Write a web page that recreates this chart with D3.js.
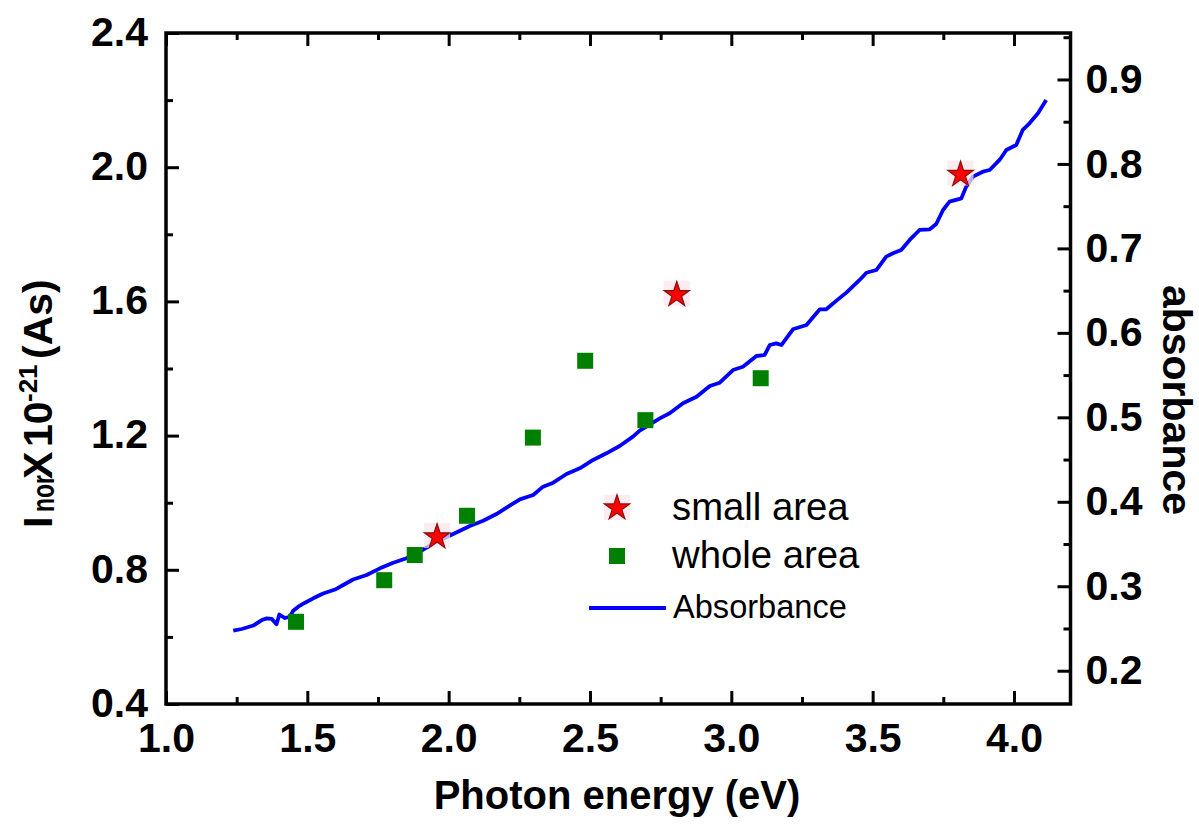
<!DOCTYPE html>
<html>
<head>
<meta charset="utf-8">
<script src="https://cdn.jsdelivr.net/npm/d3@7"></script>
<style>
  html, body { margin: 0; padding: 0; background: #fff; }
  svg { display: block; }
  text { font-family: "Liberation Sans", Arial, sans-serif; }
</style>
</head>
<body>
<svg id="chart" width="1199" height="835"></svg>
<script>
// Photon energy (eV) and normalised current for the two illumination areas
const smallAreaEnergy = [1.959, 2.807, 3.811];
const smallAreaCurrent = [0.901, 1.623, 1.981];

const wholeAreaEnergy = [1.460, 1.772, 1.880, 2.065, 2.298, 2.483, 2.696, 3.104];
const wholeAreaCurrent = [0.645, 0.769, 0.844, 0.961, 1.194, 1.423, 1.246, 1.371];

// Absorbance spectrum (right axis)
const absEnergy = [1.238, 1.268, 1.309, 1.339, 1.357, 1.374, 1.391, 1.401, 1.421, 1.438,
  1.450, 1.468, 1.492, 1.521, 1.556, 1.598, 1.627, 1.662, 1.710, 1.757,
  1.804, 1.851, 1.898, 1.957, 2.016, 2.075, 2.122, 2.169, 2.216, 2.252,
  2.299, 2.334, 2.370, 2.417, 2.464, 2.511, 2.558, 2.605, 2.652, 2.676,
  2.747, 2.782, 2.829, 2.877, 2.924, 2.959, 3.006, 3.041, 3.089, 3.118,
  3.136, 3.159, 3.177, 3.218, 3.266, 3.313, 3.336, 3.372, 3.407, 3.454,
  3.478, 3.513, 3.548, 3.572, 3.601, 3.631, 3.666, 3.702, 3.725, 3.749,
  3.772, 3.814, 3.831, 3.855, 3.890, 3.914, 3.949, 3.973, 4.008, 4.031,
  4.055, 4.085, 4.114];
const absValue = [0.2474, 0.2494, 0.2535, 0.2600, 0.2620, 0.2614, 0.2551, 0.2665, 0.2624, 0.2639,
  0.2710, 0.2758, 0.2805, 0.2857, 0.2914, 0.2961, 0.3015, 0.3080, 0.3133, 0.3212,
  0.3279, 0.3331, 0.3409, 0.3527, 0.3619, 0.3713, 0.3776, 0.3855, 0.3954, 0.4029,
  0.4080, 0.4179, 0.4226, 0.4329, 0.4396, 0.4495, 0.4574, 0.4660, 0.4771, 0.4842,
  0.4988, 0.5048, 0.5166, 0.5244, 0.5371, 0.5410, 0.5560, 0.5599, 0.5726, 0.5738,
  0.5856, 0.5876, 0.5856, 0.6042, 0.6093, 0.6279, 0.6279, 0.6381, 0.6476, 0.6626,
  0.6712, 0.6744, 0.6902, 0.6942, 0.6981, 0.7100, 0.7218, 0.7226, 0.7289, 0.7455,
  0.7553, 0.7593, 0.7731, 0.7849, 0.7908, 0.7928, 0.8047, 0.8165, 0.8224, 0.8402,
  0.8481, 0.8600, 0.8758];

// Axis ticks
const xMajorTicks = [1.0, 1.5, 2.0, 2.5, 3.0, 3.5, 4.0];
const xMinorTicks = [1.25, 1.75, 2.25, 2.75, 3.25, 3.75];
const yLeftMajorTicks = [0.4, 0.8, 1.2, 1.6, 2.0, 2.4];
const yLeftMinorTicks = [0.6, 1.0, 1.4, 1.8, 2.2];
const yRightMajorTicks = [0.2, 0.3, 0.4, 0.5, 0.6, 0.7, 0.8, 0.9];
const yRightMinorTicks = [0.25, 0.35, 0.45, 0.55, 0.65, 0.75, 0.85, 0.95];

const legendLabels = ["small area", "whole area", "Absorbance"];

const svg = d3.select("#chart");
const plotL = 166, plotR = 1070.5, plotT = 33, plotB = 704;

const x = d3.scaleLinear().domain([1.0, 4.2]).range([plotL, plotR]);
const yL = d3.scaleLinear().domain([0.4, 2.4]).range([plotB, plotT]);
const yR = d3.scaleLinear().domain([0.1606, 0.955]).range([plotB, plotT]);

const fmt1 = d3.format(".1f");
const tickFont = "41px";
const majorLen = 13, minorLen = 7;

function styleAxis(g) {
  g.select(".domain").remove();
  g.selectAll(".tick line").attr("stroke", "#000").attr("stroke-width", 3);
  g.selectAll("text").attr("font-size", tickFont).attr("font-weight", "bold").attr("fill", "#000");
}

// Bottom axis
svg.append("g").attr("transform", `translate(0,${plotB})`)
  .call(d3.axisBottom(x).tickValues(xMajorTicks).tickSize(-majorLen).tickPadding(19).tickFormat(fmt1))
  .call(styleAxis)
  .call(g => g.selectAll("text").attr("dy", "0.71em"));
svg.append("g").attr("transform", `translate(0,${plotB})`)
  .call(d3.axisBottom(x).tickValues(xMinorTicks).tickSize(-minorLen).tickFormat(""))
  .call(styleAxis);

// Top axis (ticks only)
svg.append("g").attr("transform", `translate(0,${plotT})`)
  .call(d3.axisTop(x).tickValues(xMajorTicks).tickSize(-majorLen).tickFormat(""))
  .call(styleAxis);
svg.append("g").attr("transform", `translate(0,${plotT})`)
  .call(d3.axisTop(x).tickValues(xMinorTicks).tickSize(-minorLen).tickFormat(""))
  .call(styleAxis);

// Left axis
svg.append("g").attr("transform", `translate(${plotL},0)`)
  .call(d3.axisLeft(yL).tickValues(yLeftMajorTicks).tickSize(-majorLen).tickPadding(18).tickFormat(fmt1))
  .call(styleAxis)
  .call(g => g.selectAll("text").attr("dy", "0.30em"));
svg.append("g").attr("transform", `translate(${plotL},0)`)
  .call(d3.axisLeft(yL).tickValues(yLeftMinorTicks).tickSize(-minorLen).tickFormat(""))
  .call(styleAxis);

// Right axis (absorbance)
svg.append("g").attr("transform", `translate(${plotR},0)`)
  .call(d3.axisRight(yR).tickValues(yRightMajorTicks).tickSize(-majorLen).tickPadding(15).tickFormat(fmt1))
  .call(styleAxis)
  .call(g => g.selectAll("text").attr("dy", "0.32em"));
svg.append("g").attr("transform", `translate(${plotR},0)`)
  .call(d3.axisRight(yR).tickValues(yRightMinorTicks).tickSize(-minorLen).tickFormat(""))
  .call(styleAxis);

// Frame
svg.append("rect")
  .attr("x", plotL).attr("y", plotT)
  .attr("width", plotR - plotL).attr("height", plotB - plotT)
  .attr("fill", "none").attr("stroke", "#000").attr("stroke-width", 3.5);

// Absorbance curve
const absData = absEnergy.map((e, i) => [e, absValue[i]]);
svg.append("path")
  .datum(absData)
  .attr("fill", "none")
  .attr("stroke", "#0000ff")
  .attr("stroke-width", 3.8)
  .attr("stroke-linejoin", "round")
  .attr("d", d3.line().x(d => x(d[0])).y(d => yR(d[1])));

// Whole-area squares
const sq = 16;
svg.append("g").selectAll("rect")
  .data(wholeAreaEnergy.map((e, i) => [e, wholeAreaCurrent[i]]))
  .join("rect")
  .attr("x", d => x(d[0]) - sq / 2)
  .attr("y", d => yL(d[1]) - sq / 2)
  .attr("width", sq).attr("height", sq)
  .attr("fill", "#008000");

// Small-area stars
const starPath = d3.symbol(d3.symbolStar, 200)();
const starData = smallAreaEnergy.map((e, i) => [e, smallAreaCurrent[i]]);
const starG = svg.append("g");
starG.selectAll("rect")
  .data(starData)
  .join("rect")
  .attr("x", d => x(d[0]) - 13)
  .attr("y", d => yL(d[1]) - 13)
  .attr("width", 26).attr("height", 25)
  .attr("fill", "#fbe6ea").attr("opacity", 0.75);
starG.selectAll("path")
  .data(starData)
  .join("path")
  .attr("transform", d => `translate(${x(d[0])},${yL(d[1]) + 1})`)
  .attr("d", starPath)
  .attr("fill", "#ff0000")
  .attr("stroke", "#8a1010")
  .attr("stroke-width", 1.2);

// Legend
const legend = svg.append("g");
legend.append("rect").attr("x", 604).attr("y", 495).attr("width", 26).attr("height", 25)
  .attr("fill", "#fbe6ea").attr("opacity", 0.75);
legend.append("path").attr("transform", "translate(617,508)").attr("d", starPath)
  .attr("fill", "#ff0000").attr("stroke", "#8a1010").attr("stroke-width", 1.2);
legend.append("rect").attr("x", 617 - sq / 2).attr("y", 556 - sq / 2)
  .attr("width", sq).attr("height", sq).attr("fill", "#008000");
legend.append("line").attr("x1", 589).attr("x2", 666).attr("y1", 608).attr("y2", 608)
  .attr("stroke", "#0000ff").attr("stroke-width", 4);
legend.append("text").attr("x", 672).attr("y", 520).attr("font-size", "38.3px").text(legendLabels[0]);
legend.append("text").attr("x", 672).attr("y", 568).attr("font-size", "38.3px").text(legendLabels[1]);
legend.append("text").attr("x", 673).attr("y", 618).attr("font-size", "32.6px").text(legendLabels[2]);

// Axis titles
svg.append("text")
  .attr("x", (plotL + 1068) / 2).attr("y", 809)
  .attr("text-anchor", "middle")
  .attr("font-size", "40px").attr("font-weight", "bold")
  .text("Photon energy (eV)");

svg.append("text")
  .attr("transform", "translate(1163,400) rotate(90)")
  .attr("text-anchor", "middle")
  .attr("font-size", "41px").attr("font-weight", "bold")
  .text("absorbance");

// Left title: I_nor X 10^-21 (As)
const lt = svg.append("g").attr("transform", "translate(52,528) rotate(-90)")
  .attr("font-weight", "bold").attr("fill", "#000");
lt.append("text").attr("x", 0).attr("y", 0).attr("font-size", "41px").text("I");
lt.append("text").attr("x", 16).attr("y", 2).attr("font-size", "31px")
  .attr("textLength", 37).attr("lengthAdjust", "spacingAndGlyphs").text("nor");
lt.append("text").attr("x", 49).attr("y", 0).attr("font-size", "41px").text("X");
lt.append("text").attr("x", 81).attr("y", 0).attr("font-size", "41px").text("10");
lt.append("text").attr("x", 126).attr("y", -15).attr("font-size", "26px").text("-21");
lt.append("text").attr("x", 169).attr("y", 0).attr("font-size", "41px").text("(As)");
</script>
</body>
</html>
